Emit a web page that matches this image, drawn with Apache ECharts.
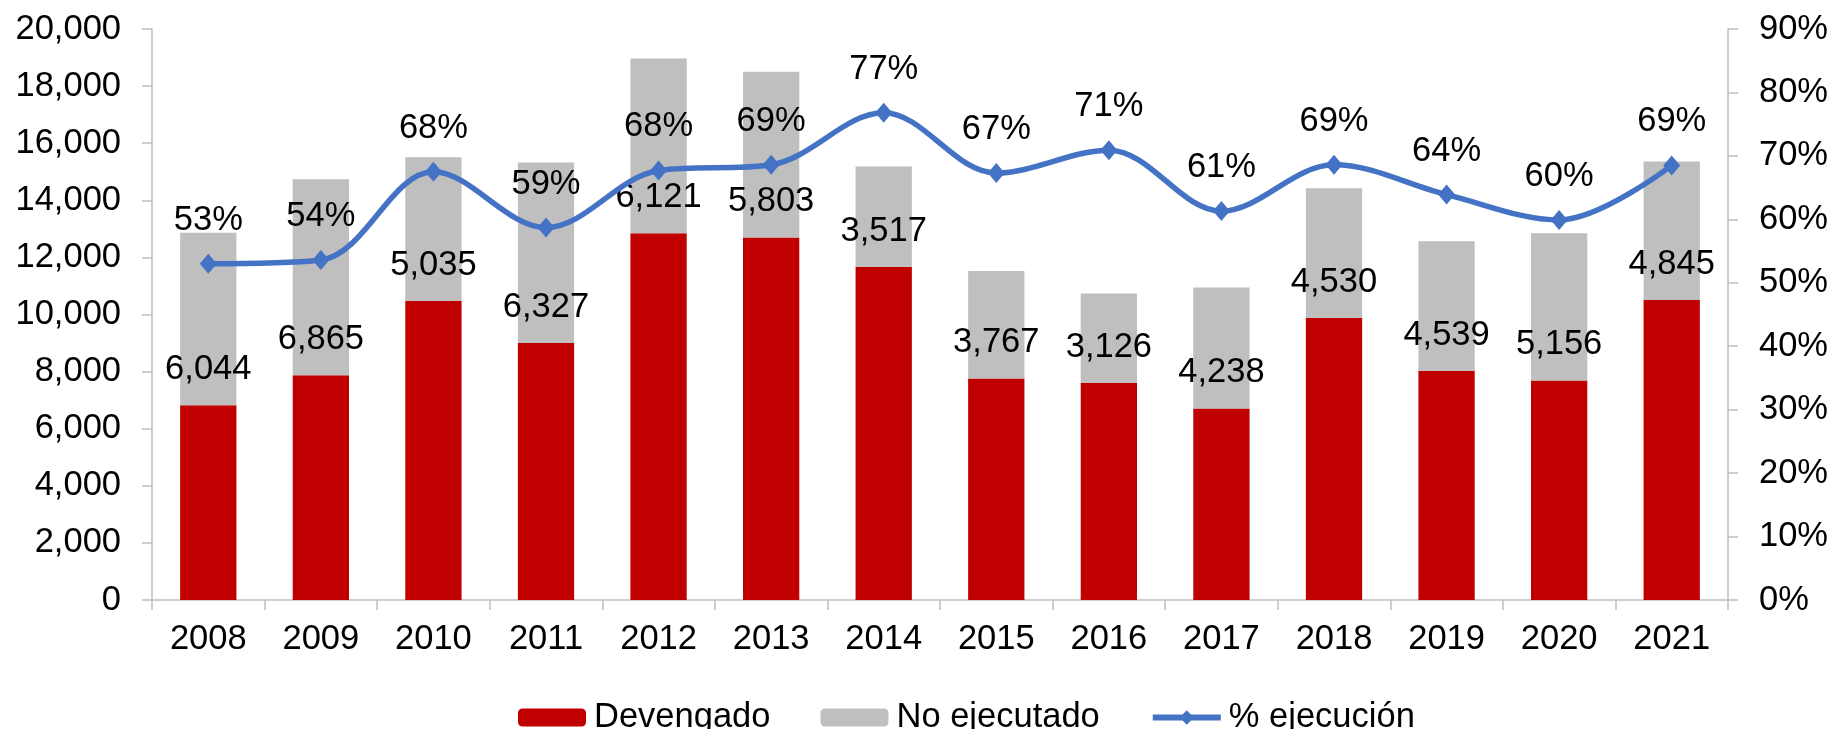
<!DOCTYPE html>
<html>
<head>
<meta charset="utf-8">
<script src="https://cdn.jsdelivr.net/npm/echarts@6/dist/echarts.min.js"></script>
<style>
html,body{margin:0;padding:0;background:#fff;}
#chart{width:1834px;height:729px;}
</style>
</head>
<body>
<div id="chart"></div>
<script>
var years = ['2008','2009','2010','2011','2012','2013','2014','2015','2016','2017','2018','2019','2020','2021'];
var devengado = [6820,7870,10470,9000,12850,12700,11670,7760,7610,6710,9890,8030,7690,10510];
var noEjecutado = [6044,6865,5035,6327,6121,5803,3517,3767,3126,4238,4530,4539,5156,4845];
var ejecucion = [53.0,53.6,67.5,58.7,67.7,68.6,76.8,67.3,70.9,61.3,68.6,63.9,59.9,68.5];

var FONT = 'Liberation Sans, Arial, sans-serif';
var FS = 34.5;
var AXIS_GRAY = '#BFBFBF';

var chart = echarts.init(document.getElementById('chart'));

var option = {
	animation: false,
	textStyle: { fontFamily: FONT },
	grid: {
		left: 152,
		right: 106,
		top: 29,
		bottom: 129
	},
	legend: {
		left: 513,
		top: 695,
		itemWidth: 68,
		itemHeight: 18,
		itemGap: 50,
		textStyle: { fontFamily: FONT, fontSize: FS, color: '#000', padding: [0,0,0,3] },
		data: [
			'Devengado',
			'No ejecutado',
			{ name: '% ejecución', lineStyle: { width: 6 } }
		]
	},
	xAxis: {
		type: 'category',
		data: years,
		boundaryGap: true,
		axisLine: { lineStyle: { color: AXIS_GRAY, width: 1.5 } },
		axisTick: { show: true, interval: 0, length: 10, lineStyle: { color: AXIS_GRAY, width: 1.5 } },
		axisLabel: { margin: 22, fontSize: FS, color: '#000', fontFamily: FONT }
	},
	yAxis: [{
		type: 'value',
		min: 0,
		max: 20000,
		interval: 2000,
		axisLine: { show: true, lineStyle: { color: AXIS_GRAY, width: 1.5 } },
		axisTick: { show: true, length: 10, lineStyle: { color: AXIS_GRAY, width: 1.5 } },
		splitLine: { show: false },
		axisLabel: {
			margin: 31,
			fontSize: FS,
			color: '#000',
			fontFamily: FONT,
			formatter: function (v) { return v.toLocaleString('en-US'); }
		}
	}, {
		type: 'value',
		min: 0,
		max: 90,
		interval: 10,
		position: 'right',
		axisLine: { show: true, lineStyle: { color: AXIS_GRAY, width: 1.5 } },
		axisTick: { show: true, length: 10, lineStyle: { color: AXIS_GRAY, width: 1.5 } },
		splitLine: { show: false },
		axisLabel: { margin: 31, fontSize: FS, color: '#000', fontFamily: FONT, formatter: '{value}%' }
	}],
	series: [
		{
			name: 'Devengado',
			type: 'bar',
			stack: 'total',
			barWidth: '50%',
			itemStyle: { color: '#C00000' },
			data: devengado
		},
		{
			name: 'No ejecutado',
			type: 'bar',
			stack: 'total',
			barWidth: '50%',
			itemStyle: { color: '#BFBFBF' },
			label: {
				show: true,
				position: 'insideBottom',
				distance: 18,
				fontSize: FS,
				fontFamily: FONT,
				color: '#000',
				formatter: function (p) { return p.value.toLocaleString('en-US'); }
			},
			data: noEjecutado
		},
		{
			name: '% ejecución',
			type: 'line',
			yAxisIndex: 1,
			smooth: 0.35,
			symbol: 'diamond',
			symbolSize: [17, 20],
			lineStyle: { color: '#4472C4', width: 5.5 },
			itemStyle: { color: '#4472C4' },
			label: {
				show: true,
				position: 'top',
				distance: 16,
				fontSize: FS,
				fontFamily: FONT,
				color: '#000',
				formatter: function (p) { return Math.round(p.value) + '%'; }
			},
			z: 5,
			data: ejecucion
		}
	]
};

chart.setOption(option);
</script>
</body>
</html>
